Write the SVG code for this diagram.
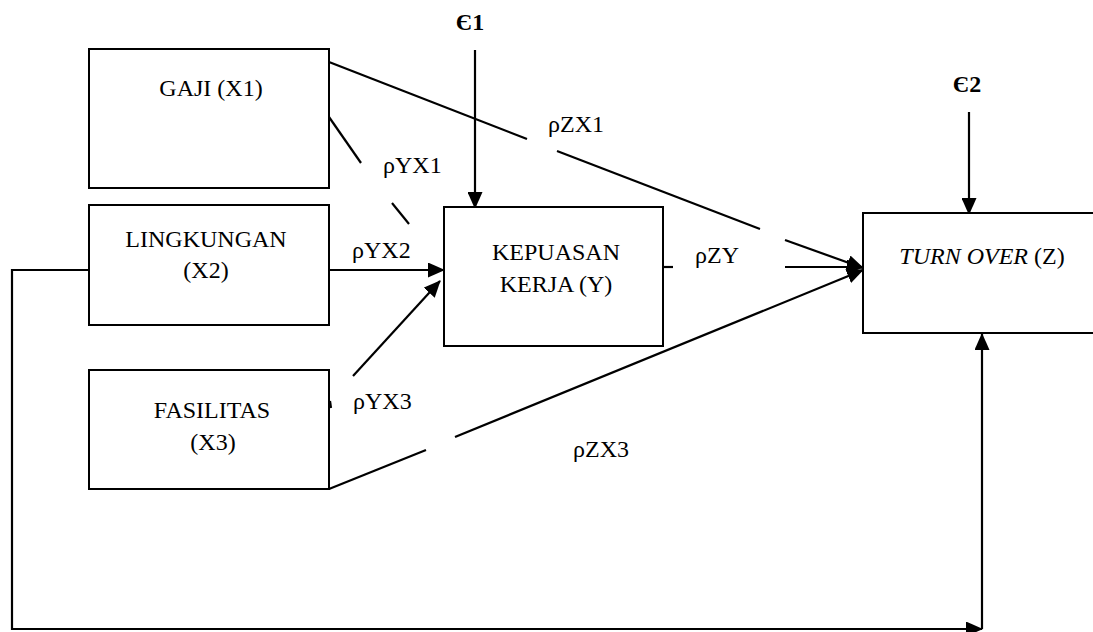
<svg xmlns="http://www.w3.org/2000/svg" width="1093" height="632" viewBox="0 0 1093 632">
  <style>
    .box { fill: #fff; stroke: #000; stroke-width: 2; }
    .ln { fill: none; stroke: #000; stroke-width: 2.2; }
    .t { font-family: "Liberation Serif", "Times New Roman", serif; font-size: 24px; fill: #000; text-anchor: middle; }
    .lbl { font-family: "Liberation Serif", "Times New Roman", serif; font-size: 24px; fill: #000; }
    .eps { font-family: "Liberation Serif", "Times New Roman", serif; font-size: 24px; font-weight: bold; fill: #000; text-anchor: middle; }
  </style>
  <defs>
    <marker id="arrow" markerUnits="userSpaceOnUse" markerWidth="17" markerHeight="15" refX="16" refY="7.5" orient="auto">
      <path d="M0,0 L17,7.5 L0,15 Z" fill="#000"/>
    </marker>
  </defs>
  <rect width="1093" height="632" fill="#fff"/>

  <!-- connectors -->
  <g id="connectors">
    <!-- error terms -->
    <line class="ln" x1="475" y1="50" x2="475" y2="208" marker-end="url(#arrow)"/>
    <line class="ln" x1="969" y1="112" x2="969" y2="214" marker-end="url(#arrow)"/>
    <!-- X1 -> Z, broken around its label -->
    <line class="ln" x1="329" y1="62" x2="527" y2="139"/>
    <line class="ln" x1="557" y1="151" x2="760" y2="229"/>
    <line class="ln" x1="785" y1="240" x2="863" y2="268" marker-end="url(#arrow)"/>
    <!-- X1 -> Y, broken -->
    <line class="ln" x1="329" y1="117" x2="361" y2="163"/>
    <line class="ln" x1="392" y1="203" x2="409" y2="224"/>
    <!-- X2 -> Y -->
    <line class="ln" x1="329" y1="270" x2="444" y2="270" marker-end="url(#arrow)"/>
    <!-- X3 -> Y -->
    <line class="ln" x1="353" y1="376" x2="440" y2="281" marker-end="url(#arrow)"/>
    <path class="ln" d="M330,401 L331,408" stroke-width="1.5"/>
    <!-- Y -> Z -->
    <line class="ln" x1="663" y1="267" x2="673" y2="267"/>
    <line class="ln" x1="785" y1="267" x2="863" y2="267" marker-end="url(#arrow)"/>
    <!-- X3 -> Z, broken -->
    <line class="ln" x1="329" y1="489" x2="426" y2="450"/>
    <line class="ln" x1="455" y1="437" x2="863" y2="270" marker-end="url(#arrow)"/>
    <!-- X2 -> Z feedback route -->
    <polyline class="ln" points="89,270 12,270 12,629 982,629" marker-end="url(#arrow)"/>
    <line class="ln" x1="982" y1="629" x2="982" y2="334" marker-end="url(#arrow)"/>
  </g>

  <!-- path coefficient labels -->
  <g id="labels">
    <text class="lbl" x="383" y="173">ρYX1</text>
    <text class="lbl" x="548" y="132">ρZX1</text>
    <text class="lbl" x="352" y="258">ρYX2</text>
    <text class="lbl" x="695" y="263">ρZY</text>
    <text class="lbl" x="353" y="409">ρYX3</text>
    <text class="lbl" x="573" y="457">ρZX3</text>
    <text class="eps" x="470" y="30">Є1</text>
    <text class="eps" x="967" y="92">Є2</text>
  </g>

  <g id="gaji">
    <rect class="box" x="89" y="49" width="240" height="139"/>
    <text class="t" x="211" y="96">GAJI (X1)</text>
  </g>
  <g id="lingkungan">
    <rect class="box" x="89" y="205" width="240" height="120"/>
    <text class="t" x="206" y="247">LINGKUNGAN</text>
    <text class="t" x="206" y="278">(X2)</text>
  </g>
  <g id="fasilitas">
    <rect class="box" x="89" y="370" width="240" height="119"/>
    <text class="t" x="212" y="418">FASILITAS</text>
    <text class="t" x="213" y="450">(X3)</text>
  </g>
  <g id="kepuasan">
    <rect class="box" x="444" y="207" width="219" height="139"/>
    <text class="t" x="556" y="260">KEPUASAN</text>
    <text class="t" x="556" y="292">KERJA (Y)</text>
  </g>
  <g id="turnover">
    <rect class="box" x="863" y="213" width="240" height="120"/>
    <text class="t" x="982" y="264"><tspan font-style="italic">TURN OVER</tspan> (Z)</text>
  </g>
</svg>
